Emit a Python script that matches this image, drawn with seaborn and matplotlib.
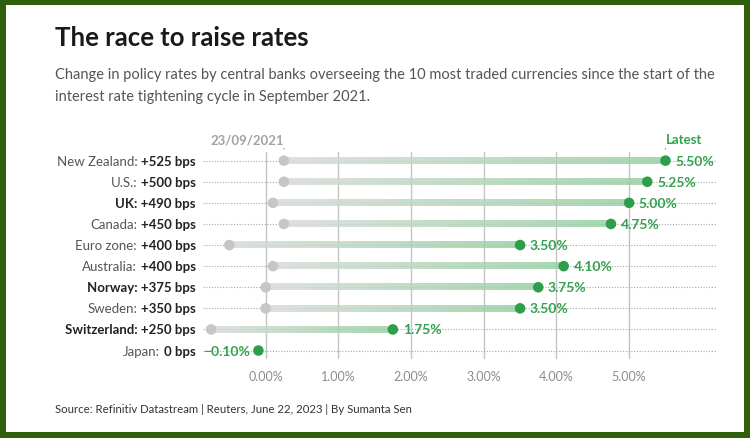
import numpy as np
import pandas as pd
import matplotlib.pyplot as plt
import matplotlib.patches as mpatches
from matplotlib.colors import LinearSegmentedColormap
import seaborn as sns

# DATA
countries = ["New Zealand", "U.S.", "UK", "Canada", "Euro zone",
             "Australia", "Norway", "Sweden", "Switzerland", "Japan"]
change_bps = ["+525", "+500", "+490", "+450", "+400",
              "+400", "+375", "+350", "+250", "0"]
rate_start = [0.25, 0.25, 0.10, 0.25, -0.50, 0.10, 0.00, 0.00, -0.75, -0.10]
rate_latest = [5.50, 5.25, 5.00, 4.75, 3.50, 4.10, 3.75, 3.50, 1.75, -0.10]
latest_labels = ["5.50%", "5.25%", "5.00%", "4.75%", "3.50%",
                 "4.10%", "3.75%", "3.50%", "1.75%", "\u22120.10%"]
highlight = ["UK", "Norway", "Switzerland"]
x_ticks = [0, 1, 2, 3, 4, 5]
x_tick_labels = ["0.00%", "1.00%", "2.00%", "3.00%", "4.00%", "5.00%"]

df = pd.DataFrame({
    "country": countries,
    "bps": change_bps,
    "start": rate_start,
    "latest": rate_latest,
    "label": latest_labels,
})
df["row"] = range(len(df))

GREEN = "#2e9e4b"
GREEN_TXT = "#33a14f"
GREY_DOT = "#c6c6c6"
BORDER = "#2f5f0c"

sns.set_style("white")
plt.rcParams["font.family"] = ["Lato", "DejaVu Sans"]

fig = plt.figure(figsize=(7.5, 4.39), dpi=100)
fig.patch.set_facecolor(BORDER)
fig.patches.append(mpatches.Rectangle((6 / 750, 6 / 439), 738 / 750, 427 / 439,
                                      transform=fig.transFigure, facecolor="white",
                                      edgecolor="none", zorder=-5))

ax = fig.add_axes([203 / 750, 1 - 360 / 439, 513 / 750, 207 / 439])
ax.set_zorder(2)
ax.set_facecolor("none")

# vertical grid
for t in x_ticks:
    ax.axvline(t, color="#c4c4c4", lw=1, zorder=1)

# dotted row guides
for r in df["row"]:
    ax.axhline(r, color="#a8a8a8", lw=0.8, ls=(0, (1, 1.5)), zorder=1)

# gradient bars from start to latest
cmap = LinearSegmentedColormap.from_list("gg", ["#d9dcd9", "#98d0a4"])
grad = np.linspace(0, 1, 256).reshape(1, -1)
for _, d in df.iterrows():
    if d["latest"] == d["start"]:
        continue
    ax.imshow(grad, cmap=cmap, aspect="auto", alpha=0.85,
              extent=(d["start"], d["latest"], d["row"] + 0.15, d["row"] - 0.15),
              zorder=2, interpolation="bilinear")
ax.set_xlim(-0.862, 6.195)
ax.set_ylim(9.4, -0.41)

# dots
moved = df[df["latest"] != df["start"]]
sns.scatterplot(data=moved, x="start", y="row", color=GREY_DOT, s=58,
                edgecolor="none", ax=ax, zorder=3)
sns.scatterplot(data=df, x="latest", y="row", color=GREEN, s=58,
                edgecolor="none", ax=ax, zorder=4)

# value labels
for _, d in df.iterrows():
    if d["latest"] >= 0:
        ax.annotate(d["label"], (d["latest"], d["row"]), xytext=(7, 0),
                    textcoords="offset points", ha="left", va="center",
                    color=GREEN_TXT, fontsize=10, fontweight="bold")
    else:
        ax.annotate(d["label"], (d["latest"], d["row"]), xytext=(-6, 0),
                    textcoords="offset points", ha="right", va="center",
                    color=GREEN_TXT, fontsize=10, fontweight="bold")

# top markers
ax.annotate("23/09/2021", (df["start"][0], -0.41), xytext=(0, 5),
            textcoords="offset points", ha="right", va="bottom",
            color="#a3a3a3", fontsize=9.5, fontweight="bold", annotation_clip=False)
ax.annotate("", (df["start"][0], -0.41), xytext=(df["start"][0], -0.72),
            arrowprops=dict(arrowstyle="-", color="#a3a3a3", lw=0.8), annotation_clip=False)
ax.annotate("Latest", (df["latest"][0], -0.41), xytext=(0, 5),
            textcoords="offset points", ha="left", va="bottom",
            color=GREEN_TXT, fontsize=9.5, fontweight="bold", annotation_clip=False)
ax.annotate("", (df["latest"][0], -0.41), xytext=(df["latest"][0], -0.72),
            arrowprops=dict(arrowstyle="-", color="#a3a3a3", lw=0.8), annotation_clip=False)

# axes styling
ax.set_xticks(x_ticks)
ax.set_xticklabels(x_tick_labels, color="#8c8c8c", fontsize=9)
ax.tick_params(axis="x", length=0, pad=8)
ax.set_yticks([])
ax.set_xlabel("")
ax.set_ylabel("")
ax.grid(False)
for s in ax.spines.values():
    s.set_visible(False)

# row labels with mixed weight
renderer = fig.canvas.get_renderer()
label_x = 196 / 750
for _, d in df.iterrows():
    y_fig = fig.transFigure.inverted().transform(ax.transData.transform((0, d["row"])))[1]
    if d["country"] in highlight:
        fig.text(label_x, y_fig, f"{d['country']}: {d['bps']} bps", ha="right", va="center",
                 fontsize=9.5, fontweight="bold", color="#222222")
    else:
        t = fig.text(label_x, y_fig, f"{d['bps']} bps", ha="right", va="center",
                     fontsize=9.5, fontweight="bold", color="#222222")
        bb = t.get_window_extent(renderer)
        x0 = fig.transFigure.inverted().transform((bb.x0, 0))[0]
        fig.text(x0 - 4 / 750, y_fig, f"{d['country']}:", ha="right", va="center",
                 fontsize=9.5, color="#555555")

# titles
fig.text(55 / 750, 1 - 38 / 439, "The race to raise rates", fontsize=18.5,
         fontweight="bold", color="#1a1a1a", va="center", ha="left")
fig.text(55 / 750, 1 - 75 / 439,
         "Change in policy rates by central banks overseeing the 10 most traded currencies since the start of the",
         fontsize=10.5, color="#555555", va="center", ha="left")
fig.text(55 / 750, 1 - 97 / 439,
         "interest rate tightening cycle in September 2021.",
         fontsize=10.5, color="#555555", va="center", ha="left")
fig.text(55 / 750, 1 - 410 / 439,
         "Source: Refinitiv Datastream | Reuters, June 22, 2023 | By Sumanta Sen",
         fontsize=8.2, color="#333333", va="center", ha="left")

fig.savefig("out.png", dpi=100, facecolor=fig.get_facecolor())
